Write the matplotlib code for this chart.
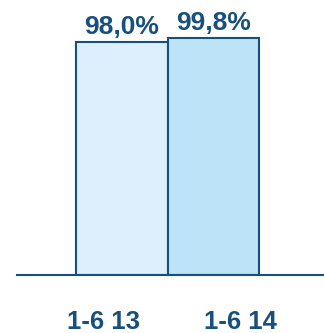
import matplotlib.pyplot as plt
import matplotlib.transforms as mtransforms

plt.rcParams['font.family'] = ['Liberation Sans', 'DejaVu Sans']

periods = ["1-6 13", "1-6 14"]
shares = [98.0, 99.8]
labels = ["98,0%", "99,8%"]
fills = ["#ddeffc", "#bde3f8"]
dark = "#17507d"

fig = plt.figure(figsize=(3.24, 3.33), dpi=100)
ax = fig.add_axes([17 / 324, 58 / 333, 307 / 324, 275 / 333])

x = list(range(len(periods)))
bars = ax.bar(x, shares, width=1.0, color=fills, edgecolor=dark, linewidth=1.5)
for b, t in zip(bars, labels):
    ax.text(b.get_x() + b.get_width() / 2, b.get_height() + 1.2, t,
            ha="center", va="bottom", fontsize=19, fontweight="bold", color=dark)

# category labels sit below the axis, pushed outward from the bar centres
trans = mtransforms.blended_transform_factory(ax.transData, fig.transFigure)
for xi, p, dx in zip(x, periods, [-0.2, 0.3]):
    ax.text(xi + dx, 4 / 333, p, transform=trans, ha="center", va="baseline",
            fontsize=18.5, fontweight="bold", color=dark)

ax.set_xlim(-1.145, 2.21)
ax.set_ylim(0, 115.8)
ax.set_xticks([])
ax.set_yticks([])
for s in ["top", "right", "left"]:
    ax.spines[s].set_visible(False)
ax.spines["bottom"].set_color(dark)
ax.spines["bottom"].set_linewidth(1.5)

fig.savefig("out.png", dpi=100)
